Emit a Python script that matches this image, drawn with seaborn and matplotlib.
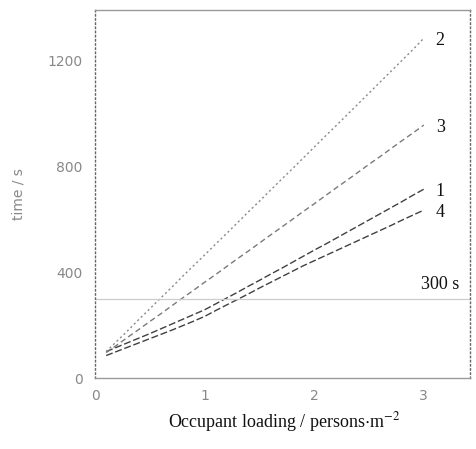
import numpy as np
import pandas as pd
import matplotlib
matplotlib.use("Agg")
import matplotlib.pyplot as plt
import seaborn as sns

loading = [0.1, 0.2, 0.3, 0.4, 0.5, 0.6, 0.7, 0.8, 0.9, 1.0,
           1.1, 1.2, 1.3, 1.4, 1.5, 1.6, 1.7, 1.8, 1.9, 2.0,
           2.1, 2.2, 2.3, 2.4, 2.5, 2.6, 2.7, 2.8, 2.9, 3.0]
curve1 = [100, 117, 134, 151, 168, 186, 204, 222, 240, 258,
          280, 302, 324, 347, 369, 392, 414, 437, 460, 483,
          505, 528, 551, 574, 597, 620, 643, 666, 690, 713]
curve2 = [100, 140, 180, 222, 262, 303, 343, 385, 425, 465,
          506, 546, 587, 628, 668, 709, 750, 790, 831, 872,
          913, 953, 994, 1035, 1076, 1117, 1158, 1199, 1240, 1283]
curve3 = [96, 125, 155, 184, 214, 243, 273, 303, 332, 362,
          391, 421, 451, 480, 510, 540, 569, 599, 629, 658,
          688, 718, 747, 777, 807, 836, 866, 896, 925, 955]
curve4 = [85, 101, 117, 133, 149, 165, 181, 198, 215, 233,
          255, 276, 297, 318, 340, 361, 382, 403, 424, 443,
          462, 481, 500, 519, 538, 557, 576, 596, 615, 634]
series_names = ["1", "2", "3", "4"]
reference_time = 300
x_ticks = [0, 1, 2, 3]
y_ticks = [0, 400, 800, 1200]

frames = []
for name, vals in zip(series_names, [curve1, curve2, curve3, curve4]):
    frames.append(pd.DataFrame({"loading": loading, "time": vals, "series": name}))
df = pd.concat(frames, ignore_index=True)

sns.set_style("white")
plt.rcParams["font.family"] = ["Liberation Serif", "DejaVu Serif"]
plt.rcParams["mathtext.fontset"] = "stix"

fig = plt.figure(figsize=(4.76, 4.49), dpi=100)
ax = fig.add_axes([0.2, 0.158, 0.787, 0.82])

palette = {"1": "#404040", "2": "#8a8a8a", "3": "#7a7a7a", "4": "#404040"}
dashes = {"1": (5, 2), "2": (1.5, 2), "3": (4, 2.5), "4": (5, 2)}
sns.lineplot(data=df, x="loading", y="time", hue="series", style="series",
             palette=palette, dashes=dashes, linewidth=1.0, legend=False, ax=ax)

ax.axhline(reference_time, color="#cccccc", linewidth=0.9)
ax.text(3.15, reference_time + 22, "300 s", fontsize=13, ha="center", va="bottom", color="#111111")

for name, vals in zip(series_names, [curve1, curve2, curve3, curve4]):
    ax.text(3.15, vals[-1] - 8, name, fontsize=13,
            ha="center", va="center", color="#111111")

ax.set_xlim(0, 3.42)
ax.set_ylim(0, 1390)
ax.set_xticks(x_ticks)
ax.set_yticks(y_ticks)
ax.set_xticklabels([str(t) for t in x_ticks], color="#888888", fontsize=10,
                   family=["DejaVu Sans"])
ax.set_yticklabels([str(t) for t in y_ticks], color="#888888", fontsize=10,
                   family=["DejaVu Sans"])
ax.tick_params(axis="both", direction="in", length=4, color="#aaaaaa", width=0.8)
ax.tick_params(axis="x", pad=8)
ax.tick_params(axis="y", pad=9)
ax.set_xticks([0.5, 1.5, 2.5], minor=True)
ax.tick_params(axis="x", which="minor", direction="in", length=2, color="#bbbbbb")

ax.set_xlabel("Occupant loading / persons$\\cdot$m$^{-2}$", fontsize=13, color="#111111")
ax.xaxis.set_label_coords(0.505, -0.088)
ax.set_ylabel("time / s", fontsize=10, color="#888888", family=["DejaVu Sans"])
ax.yaxis.set_label_coords(-0.185, 0.5)

for side in ["left", "right"]:
    ax.spines[side].set_linestyle((0, (1, 2)))
    ax.spines[side].set_color("#666666")
    ax.spines[side].set_linewidth(1.0)
for side in ["top", "bottom"]:
    ax.spines[side].set_color("#999999")
    ax.spines[side].set_linewidth(1.0)

fig.savefig("out.png", dpi=100)
